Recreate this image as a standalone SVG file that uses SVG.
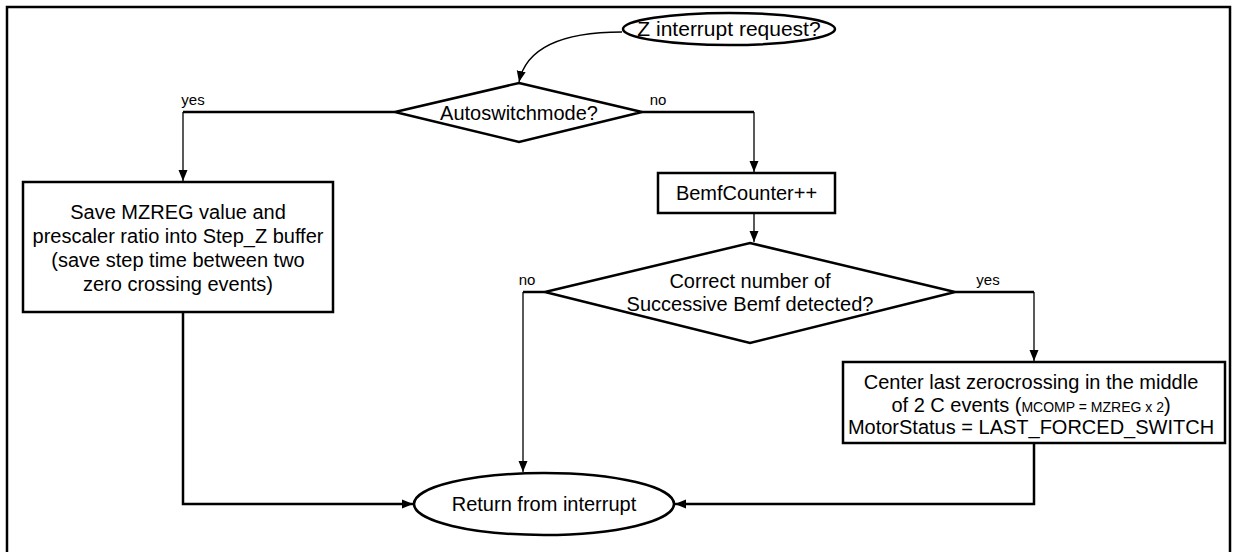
<svg xmlns="http://www.w3.org/2000/svg" width="1235" height="552" viewBox="0 0 1235 552">
<style>
.shape{fill:#fff;stroke:#000;stroke-width:2.5}
.t{font-family:"Liberation Sans",Arial,sans-serif;font-size:20px;fill:#000;text-anchor:middle}
.lbl{font-family:"Liberation Sans",Arial,sans-serif;font-size:15px;fill:#000;text-anchor:middle}
.thick{fill:none;stroke:#000;stroke-width:2.5}
.thin{fill:none;stroke:#000;stroke-width:1.3}
</style>
<defs>
<marker id="arr" markerUnits="userSpaceOnUse" markerWidth="12" markerHeight="12" viewBox="0 0 12 12" refX="11" refY="6" orient="auto">
<path d="M0,1.5 L11,6 L0,10.5 Z" fill="#000"/>
</marker>
</defs>
<rect width="1235" height="552" fill="#fff"/>
<path d="M7,552 V7 H1230 V552" fill="none" stroke="#000" stroke-width="2.5"/>

<g id="connectors">
<path class="thin" d="M622,32 C562,32 526,48 519,82" marker-end="url(#arr)"/>
<path class="thick" d="M395,112 H183"/>
<path class="thin" d="M183,112 V181" marker-end="url(#arr)"/>
<path class="thick" d="M642,112 H754"/>
<path class="thin" d="M754,112 V172" marker-end="url(#arr)"/>
<path class="thin" d="M754,213 V242" marker-end="url(#arr)" stroke-width="1.6"/>
<path class="thick" d="M545,292 H523"/>
<path class="thin" d="M523,292 V472" marker-end="url(#arr)"/>
<path class="thick" d="M955,292 H1034"/>
<path class="thin" d="M1034,292 V361" marker-end="url(#arr)"/>
<path class="thick" d="M183,312 V504 H413" marker-end="url(#arr)"/>
<path class="thick" d="M1034,443 V504 H675" marker-end="url(#arr)"/>
<text class="lbl" x="193" y="105">yes</text>
<text class="lbl" x="658" y="105">no</text>
<text class="lbl" x="527" y="285">no</text>
<text class="lbl" x="988" y="285">yes</text>
</g>

<g id="start">
<ellipse class="shape" cx="729" cy="29" rx="106" ry="16"/>
<text class="t" x="729" y="36" style="font-size:21px">Z interrupt request?</text>
</g>

<g id="autoswitch">
<polygon class="shape" points="519,83 642,112 519,142 395,112"/>
<text class="t" x="519" y="120">Autoswitchmode?</text>
</g>

<g id="save-mzreg">
<rect class="shape" x="23" y="182" width="310" height="130"/>
<text class="t" x="178" y="219">Save MZREG value and</text>
<text class="t" x="178" y="243">prescaler ratio into Step_Z buffer</text>
<text class="t" x="178" y="267">(save step time between two</text>
<text class="t" x="178" y="291">zero crossing events)</text>
</g>

<g id="bemfcounter">
<rect class="shape" x="658" y="173" width="177" height="40"/>
<text class="t" x="746.5" y="200">BemfCounter++</text>
</g>

<g id="correct-number">
<polygon class="shape" points="750,243 955,292 750,343 545,292"/>
<text class="t" x="750" y="288">Correct number of</text>
<text class="t" x="750" y="311">Successive Bemf detected?</text>
</g>

<g id="center-zc">
<rect class="shape" x="843" y="362" width="382" height="81"/>
<text class="t" x="1031" y="389">Center last zerocrossing in the middle</text>
<text class="t" x="1031" y="411.5">of 2 C events (<tspan style="font-size:14px">MCOMP = MZREG x 2</tspan>)</text>
<text class="t" x="1031" y="434">MotorStatus = LAST_FORCED_SWITCH</text>
</g>

<g id="return">
<ellipse class="shape" cx="544" cy="504" rx="130" ry="31"/>
<text class="t" x="544" y="511">Return from interrupt</text>
</g>
</svg>
